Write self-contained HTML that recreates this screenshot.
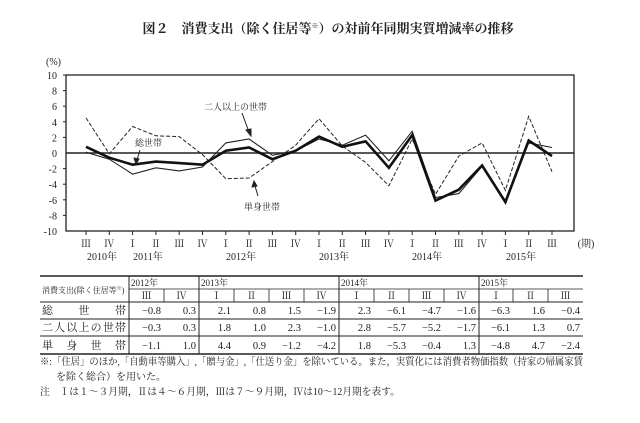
<!DOCTYPE html>
<html><head><meta charset="utf-8"><style>
body{margin:0;background:#fff;}
svg text{font-family:"Liberation Serif","Noto Serif CJK SC","Noto Sans CJK JP",serif;fill:#222;}
</style></head><body>
<svg width="640" height="418" viewBox="0 0 640 418" xmlns="http://www.w3.org/2000/svg">
<text x="328" y="33" font-size="13" text-anchor="middle" font-weight="bold">図２　消費支出（除く住居等<tspan font-size="7" dy="-5">※</tspan><tspan dy="5">）の対前年同期実質増減率の推移</tspan></text>
<text x="46" y="65" font-size="10">(%)</text>
<g font-size="10" text-anchor="end">
<text x="57" y="79">10</text><text x="57" y="94.6">8</text><text x="57" y="110.2">6</text><text x="57" y="125.8">4</text><text x="57" y="141.4">2</text><text x="57" y="157">0</text><text x="57" y="172.6">-2</text><text x="57" y="188.2">-4</text><text x="57" y="203.8">-6</text><text x="57" y="219.4">-8</text><text x="57" y="235">-10</text>
</g>
<g stroke="#222" stroke-width="1">
<line x1="63" y1="75" x2="66" y2="75"/><line x1="63" y1="90.6" x2="66" y2="90.6"/><line x1="63" y1="106.2" x2="66" y2="106.2"/><line x1="63" y1="121.8" x2="66" y2="121.8"/><line x1="63" y1="137.4" x2="66" y2="137.4"/><line x1="63" y1="168.6" x2="66" y2="168.6"/><line x1="63" y1="184.2" x2="66" y2="184.2"/><line x1="63" y1="199.8" x2="66" y2="199.8"/><line x1="63" y1="215.4" x2="66" y2="215.4"/>
</g>
<rect x="66" y="75" width="508" height="156" fill="none" stroke="#222" stroke-width="1.3"/>
<line x1="66" y1="153" x2="574" y2="153" stroke="#222" stroke-width="1.5"/>
<g id="ticks" stroke="#222" stroke-width="1"></g>
<g id="xl" font-size="10" text-anchor="middle"></g>
<g font-size="10" text-anchor="middle">
<text x="102" y="260">2010年</text><text x="148" y="260">2011年</text><text x="241" y="260">2012年</text><text x="334" y="260">2013年</text><text x="427" y="260">2014年</text><text x="521" y="260">2015年</text>
<text x="586" y="247">(期)</text>
</g>
<polyline id="s3" fill="none" stroke="#222" stroke-width="1" stroke-dasharray="4,2"/>
<polyline id="s2" fill="none" stroke="#222" stroke-width="1.1"/>
<polyline id="s1" fill="none" stroke="#111" stroke-width="2.6"/>
<g font-size="9" fill="#444">
<text x="204" y="110">二人以上の世帯</text>
<text x="135" y="146">総世帯</text>
<text x="244" y="210">単身世帯</text>
</g>
<g stroke="#222" stroke-width="1" fill="#222">
<line x1="242" y1="113" x2="249" y2="132"/><polygon points="251,136 246,130 251,129"/>
<line x1="140" y1="150" x2="137" y2="160"/><polygon points="136,164 134,158 139,159"/>
<line x1="258" y1="196" x2="255" y2="186"/><polygon points="254,181 252,187 257,186"/>
</g>
<g stroke="#222" fill="none">
<line x1="40" y1="276" x2="583" y2="276" stroke-width="1.5"/>
<line x1="129" y1="289" x2="583" y2="289" stroke-width="0.8"/>
<line x1="40" y1="302" x2="583" y2="302" stroke-width="1"/>
<line x1="40" y1="319" x2="583" y2="319" stroke-width="1"/>
<line x1="40" y1="336" x2="583" y2="336" stroke-width="1"/>
<line x1="40" y1="354" x2="583" y2="354" stroke-width="1.5"/>
<line x1="129" y1="276" x2="129" y2="354" stroke-width="1"/>
<line x1="199" y1="276" x2="199" y2="354" stroke-width="1"/>
<line x1="339" y1="276" x2="339" y2="354" stroke-width="1"/>
<line x1="479" y1="276" x2="479" y2="354" stroke-width="1"/>
<g id="vsub" stroke-width="0.8"></g>
</g>
<g font-size="9">
<text x="42" y="293" font-size="8">消費支出(除く住居等<tspan font-size="5" dy="-3">※</tspan><tspan dy="3">)</tspan></text>
<text x="131" y="286">2012年</text><text x="201" y="286">2013年</text><text x="341" y="286">2014年</text><text x="481" y="286">2015年</text>
</g>
<g font-size="11">
<text x="42" y="314" textLength="84" lengthAdjust="spacing">総　　世　　帯</text>
<text x="42" y="331" textLength="84" lengthAdjust="spacing">二人以上の世帯</text>
<text x="42" y="349" textLength="84" lengthAdjust="spacing">単　身　世　帯</text>
</g>
<g id="cells" font-size="10.5" text-anchor="end"></g>
<g font-size="10">
<text x="40" y="365" textLength="543" lengthAdjust="spacingAndGlyphs">※:「住居」のほか,「自動車等購入」,「贈与金」,「仕送り金」を除いている。また，実質化には消費者物価指数（持家の帰属家賃</text>
<text x="56" y="380">を除く総合）を用いた。</text>
<text x="40" y="395" textLength="360" lengthAdjust="spacingAndGlyphs">注　Ⅰは１～３月期，Ⅱは４～６月期，Ⅲは７～９月期，Ⅳは10～12月期を表す。</text>
</g>
</svg>
<script>
var q=["Ⅲ","Ⅳ","Ⅰ","Ⅱ"];
var s1=[0.8,-0.6,-1.5,-1.1,-1.3,-1.5,0.3,0.7,-0.8,0.3,2.1,0.8,1.5,-1.9,2.3,-6.1,-4.7,-1.6,-6.3,1.6,-0.4];
var s2=[0.1,-0.8,-2.7,-1.9,-2.3,-1.8,1.3,1.8,-0.3,0.3,1.8,1.0,2.3,-1.0,2.8,-5.7,-5.2,-1.7,-6.1,1.3,0.7];
var s3=[4.5,-0.1,3.4,2.2,2.1,-0.2,-3.3,-3.2,-1.1,1.0,4.4,0.9,-1.2,-4.2,1.8,-5.3,-0.4,1.3,-4.8,4.7,-2.4];
function X(i){return 86+i*23.3;}function Y(v){return 153-v*7.8;}
function pts(a){return a.map(function(v,i){return X(i).toFixed(1)+","+Y(v).toFixed(1)}).join(" ");}
document.getElementById("s1").setAttribute("points",pts(s1));
document.getElementById("s2").setAttribute("points",pts(s2));
document.getElementById("s3").setAttribute("points",pts(s3));
var ns="http://www.w3.org/2000/svg",t=document.getElementById("ticks"),xl=document.getElementById("xl");
for(var i=0;i<21;i++){var l=document.createElementNS(ns,"line");l.setAttribute("x1",X(i));l.setAttribute("x2",X(i));l.setAttribute("y1",231);l.setAttribute("y2",235);t.appendChild(l);
var tx=document.createElementNS(ns,"text");tx.setAttribute("x",X(i));tx.setAttribute("y",247);tx.textContent=q[i%4];xl.appendChild(tx);}
var cols=[129,164,199,234,269,304,339,374,409,444,479,513,548,583];
var v=document.getElementById("vsub"),c=document.getElementById("cells");
var hd=["Ⅲ","Ⅳ","Ⅰ","Ⅱ","Ⅲ","Ⅳ","Ⅰ","Ⅱ","Ⅲ","Ⅳ","Ⅰ","Ⅱ","Ⅲ"];
var rows=[s1.slice(8),s2.slice(8),s3.slice(8)],ry=[314,331,349];
for(var k=0;k<13;k++){
 if([1,3,4,5,7,8,9,11,12].indexOf(k)>=0){var l=document.createElementNS(ns,"line");l.setAttribute("x1",cols[k]);l.setAttribute("x2",cols[k]);l.setAttribute("y1",289);l.setAttribute("y2",302);v.appendChild(l);}
 var h=document.createElementNS(ns,"text");h.setAttribute("x",(cols[k]+cols[k+1])/2);h.setAttribute("y",299);h.setAttribute("text-anchor","middle");h.setAttribute("font-size","10");h.textContent=hd[k];c.parentNode.appendChild(h);
 for(var r=0;r<3;r++){var tx=document.createElementNS(ns,"text");tx.setAttribute("x",cols[k+1]-3);tx.setAttribute("y",ry[r]);var val=rows[r][k];tx.textContent=(val<0?"−":"")+Math.abs(val).toFixed(1);c.appendChild(tx);}
}
</script>
</body></html>
